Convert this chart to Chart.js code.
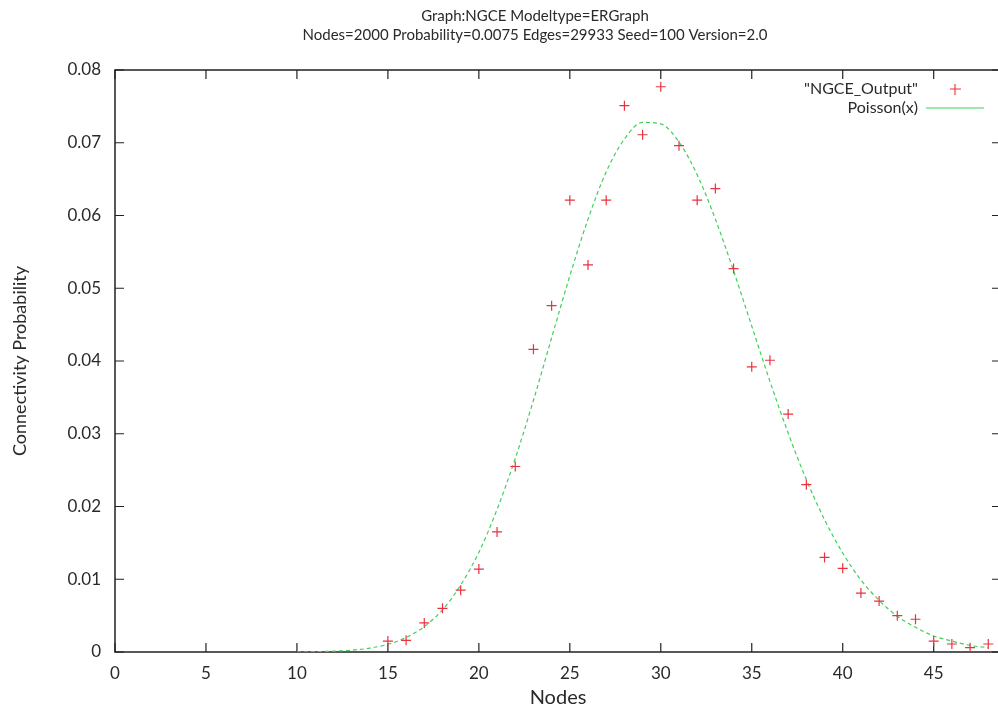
<!DOCTYPE html>
<html>
<head>
<meta charset="utf-8">
<script src="https://cdn.jsdelivr.net/npm/chart.js@4.4.1/dist/chart.umd.min.js"></script>
<style>
html, body { margin: 0; padding: 0; background: #fff; overflow: hidden; }
canvas { display: block; }
</style>
</head>
<body>
<canvas id="myChart" width="1070" height="711"></canvas>
<script>
// values
let nodes = [15,16,17,18,19,20,21,22,23,24,25,26,27,28,29,30,31,
             32,33,34,35,36,37,38,39,40,41,42,43,44,45,46,47,48];
let ngce_output = [0.0015,0.0016,0.0040,0.0060,0.0085,0.0114,0.0165,0.0255,0.0416,0.0476,0.0621,0.0532,0.0621,0.0751,0.0711,0.0777,0.0696,
                   0.0621,0.0637,0.0527,0.0392,0.0401,0.0327,0.0230,0.0130,0.0115,0.0081,0.0070,0.0050,0.0045,0.0015,0.0011,0.0006,0.0011];

let curve_x = [10,11,12,13,14,15,16,17,18,19,20,21,22,23,24,25,26,27,28,29,
               30,31,32,33,34,35,36,37,38,39,40,41,42,43,44,45,46,47,48];
let poisson = [0.00002,0.00005,0.00011,0.00025,0.00053,0.00106,0.00199,0.0035,0.0058,0.0092,0.0137,0.0196,0.0266,0.0346,0.0432,0.0517,0.0595,0.0660,0.0705,0.0728,
               0.0726,0.0701,0.0656,0.0595,0.0524,0.0448,0.0372,0.0301,0.0237,0.0182,0.0136,0.0099,0.0071,0.0049,0.0034,0.0022,0.0015,0.0009,0.0006];

let x_ticks = [0,5,10,15,20,25,30,35,40,45];
let y_ticks = [0,0.01,0.02,0.03,0.04,0.05,0.06,0.07,0.08];

let title_lines = ["Graph:NGCE Modeltype=ERGraph",
                   "Nodes=2000 Probability=0.0075 Edges=29933 Seed=100 Version=2.0"];

let textColor = "#2a2a2a";
let fontFamily = "Lato, 'Open Sans', sans-serif";

// small glyph for the "+" in the key
function plusGlyph(){
	let c = document.createElement("canvas");
	c.width = 11; c.height = 11;
	let g = c.getContext("2d");
	g.strokeStyle = "#e8333f";
	g.lineWidth = 1.2;
	g.beginPath();
	g.moveTo(0, 5.5); g.lineTo(11, 5.5);
	g.moveTo(5.5, 0); g.lineTo(5.5, 11);
	g.stroke();
	return c;
}

// gnuplot style box with ticks pointing inward
const frame = {
	id: "frame",
	afterLayout(chart){
		// title centred on the whole page, key in the top right corner of the plot
		let t = chart.titleBlock;
		t.left = 0; t.right = chart.width; t.width = chart.width;
		let lg = chart.legend, a = chart.chartArea;
		lg.left = a.right - lg.width - 14;
		lg.right = lg.left + lg.width;
		lg.top = a.top + 8;
		lg.bottom = lg.top + lg.height;
		lg.adjustHitBoxes();
	},
	beforeDatasetsDraw(chart){
		let a = chart.chartArea, ctx = chart.ctx;
		let sx = chart.scales.x, sy = chart.scales.y;
		ctx.save();
		ctx.strokeStyle = "#222";
		ctx.lineWidth = 1.5;
		ctx.strokeRect(a.left, a.top, a.right - a.left, a.bottom - a.top);
		ctx.lineWidth = 1.2;
		ctx.beginPath();
		sx.ticks.forEach(t => {
			let px = sx.getPixelForValue(t.value);
			ctx.moveTo(px, a.bottom); ctx.lineTo(px, a.bottom - 9);
			ctx.moveTo(px, a.top); ctx.lineTo(px, a.top + 9);
		});
		sy.ticks.forEach(t => {
			let py = sy.getPixelForValue(t.value);
			ctx.moveTo(a.left, py); ctx.lineTo(a.left + 9, py);
			ctx.moveTo(a.right, py); ctx.lineTo(a.right - 9, py);
		});
		ctx.stroke();
		ctx.restore();
	}
};

let ctx = document.getElementById("myChart").getContext("2d");
let plus = plusGlyph();

new Chart(ctx, {
	type: "scatter",
	data: {
		datasets: [{
			label: "\"NGCE_Output\"",
			data: nodes.map((n, i) => ({x: n, y: ngce_output[i]})),
			pointStyle: "cross",
			pointRadius: 5,
			borderColor: "#e8333f",
			backgroundColor: "#e8333f",
			borderWidth: 1.2,
			showLine: false
		}, {
			label: "Poisson(x)",
			data: curve_x.map((n, i) => ({x: n, y: poisson[i]})),
			showLine: true,
			pointRadius: 0,
			borderColor: "#3fcf5a",
			backgroundColor: "#3fcf5a",
			borderWidth: 1.2,
			borderDash: [4, 3],
			cubicInterpolationMode: "monotone",
			pointStyle: "line"
		}]
	},
	options: {
		responsive: false,
		animation: false,
		layout: { padding: { left: 0, right: 69, top: 0, bottom: 0 } },
		plugins: {
			title: {
				display: true,
				text: title_lines,
				color: textColor,
				font: { family: fontFamily, size: 15, weight: "normal", lineHeight: 1.3 },
				padding: { top: 6, bottom: 25 }
			},
			legend: {
				position: "chartArea",
				align: "start",
				rtl: true,
				labels: {
					color: textColor,
					font: { family: fontFamily, size: 16 },
					usePointStyle: true,
					pointStyleWidth: 58,
					padding: 3,
					generateLabels(chart){
						let items = Chart.defaults.plugins.legend.labels.generateLabels(chart);
						items[0].pointStyle = plus;
						return items;
					}
				}
			},
			tooltip: { enabled: false }
		},
		scales: {
			x: {
				type: "linear",
				min: 0,
				max: 48.7,
				afterBuildTicks: axis => { axis.ticks = x_ticks.map(v => ({value: v})); },
				afterFit: axis => { axis.height = 59; },
				grid: { display: false, drawTicks: false },
				border: { display: false },
				ticks: {
					color: textColor,
					font: { family: fontFamily, size: 17 },
					padding: 11,
					maxRotation: 0
				},
				title: {
					display: true,
					text: "Nodes",
					color: textColor,
					font: { family: fontFamily, size: 20 },
					padding: { top: 0, bottom: 1 }
				}
			},
			y: {
				type: "linear",
				min: 0,
				max: 0.08,
				afterBuildTicks: axis => { axis.ticks = y_ticks.map(v => ({value: v})); },
				afterFit: axis => { axis.width = 115; },
				grid: { display: false, drawTicks: false },
				border: { display: false },
				ticks: {
					color: textColor,
					font: { family: fontFamily, size: 17 },
					padding: 14,
					callback: v => String(+v.toFixed(3))
				},
				title: {
					display: true,
					text: "Connectivity Probability",
					color: textColor,
					font: { family: fontFamily, size: 18 },
					padding: { top: 9, bottom: 0 }
				}
			}
		}
	},
	plugins: [frame]
});
</script>
</body>
</html>
